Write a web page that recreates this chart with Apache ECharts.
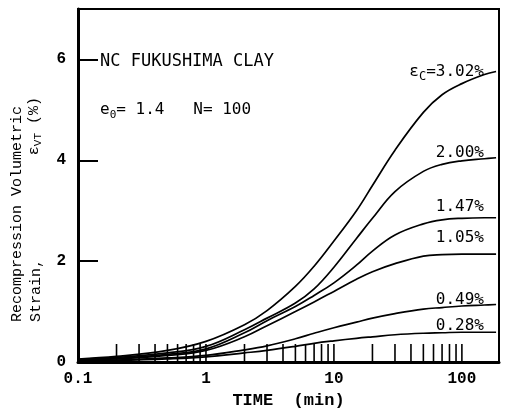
<!DOCTYPE html>
<html>
<head>
<meta charset="utf-8">
<script src="https://cdn.jsdelivr.net/npm/echarts@6/dist/echarts.min.js"></script>
<style>
html, body { margin: 0; padding: 0; background: #fff; }
#chart { width: 508px; height: 414px; }
</style>
</head>
<body>
<div id="chart"></div>
<script>
// time (min)
const times = [0.1, 0.2, 0.5, 1, 2, 3, 5, 7, 10, 15, 20, 30, 50, 70, 100, 150, 185]

// recompression volumetric strain (%) for each cyclic strain level
const strain302 = [0.06, 0.11, 0.23, 0.41, 0.74, 1.02, 1.5, 1.9, 2.4, 3.0, 3.5, 4.2, 4.95, 5.3, 5.52, 5.7, 5.76]
const strain200 = [0.05, 0.09, 0.18, 0.31, 0.64, 0.87, 1.17, 1.45, 1.88, 2.45, 2.85, 3.38, 3.78, 3.92, 3.99, 4.03, 4.05]
const strain147 = [0.04, 0.07, 0.15, 0.26, 0.58, 0.82, 1.1, 1.32, 1.57, 1.92, 2.2, 2.52, 2.74, 2.82, 2.85, 2.86, 2.86]
const strain105 = [0.04, 0.06, 0.13, 0.23, 0.5, 0.72, 1.0, 1.19, 1.4, 1.64, 1.79, 1.95, 2.1, 2.13, 2.14, 2.14, 2.14]
const strain049 = [0.03, 0.04, 0.08, 0.13, 0.24, 0.32, 0.46, 0.57, 0.68, 0.79, 0.87, 0.96, 1.05, 1.08, 1.11, 1.13, 1.14]
const strain028 = [0.02, 0.03, 0.06, 0.1, 0.18, 0.23, 0.31, 0.37, 0.42, 0.47, 0.5, 0.54, 0.57, 0.58, 0.59, 0.59, 0.59]

const seriesNames = ['3.02%', '2.00%', '1.47%', '1.05%', '0.49%', '0.28%']
const seriesValues = [strain302, strain200, strain147, strain105, strain049, strain028]

// axis ticks
const xTickLabels = [0.1, 1, 10, 100]
const yTickLabels = [0, 2, 4, 6]
const logMinorTicks = [0.2, 0.3, 0.4, 0.5, 0.6, 0.7, 0.8, 0.9, 1,
	2, 3, 4, 5, 6, 7, 8, 9, 10,
	20, 30, 40, 50, 60, 70, 80, 90, 100]

const chartDom = document.getElementById('chart')
const myChart = echarts.init(chartDom)

const mono = 'DejaVu Sans Mono'
const typewriter = 'Liberation Mono'

const lineSeries = seriesValues.map((vals, i) => ({
	name: seriesNames[i],
	type: 'line',
	data: times.map((t, j) => [t, vals[j]]),
	smooth: 0.4,
	symbol: 'none',
	lineStyle: { color: '#000', width: 1.7 },
	z: 3,
}))

const tickSeries = {
	type: 'custom',
	data: logMinorTicks.map(t => [t, 0]),
	renderItem: (params, api) => {
		const p = api.coord([api.value(0), api.value(1)])
		return {
			type: 'line',
			shape: { x1: p[0], y1: p[1], x2: p[0], y2: p[1] - 18 },
			style: { stroke: '#000', lineWidth: 1.6 },
		}
	},
	z: 4,
	silent: true,
}

const option = {
	animation: false,
	backgroundColor: '#fff',
	grid: {
		left: 78, top: 9, width: 421, height: 357,
		show: true, borderColor: '#000', borderWidth: 2,
	},
	xAxis: {
		type: 'log',
		min: 0.1,
		max: 195,
		logBase: 10,
		name: 'TIME  (min)',
		nameLocation: 'middle',
		nameGap: 30,
		nameTextStyle: { fontFamily: typewriter, fontSize: 17, fontWeight: 'bold', color: '#000' },
		axisLine: { lineStyle: { color: '#000', width: 3 } },
		axisTick: { show: false },
		splitLine: { show: false },
		axisLabel: {
			margin: 9,
			fontFamily: typewriter, fontSize: 16, fontWeight: 'bold', color: '#000',
			showMaxLabel: false,
			formatter: v => (xTickLabels.includes(+v.toPrecision(3)) ? String(+v.toPrecision(3)) : ''),
		},
	},
	yAxis: {
		type: 'value',
		min: 0,
		max: 7,
		interval: 2,
		axisLine: { show: true, lineStyle: { color: '#000', width: 3 } },
		axisTick: { show: true, inside: true, length: 20, lineStyle: { color: '#000', width: 2 } },
		splitLine: { show: false },
		axisLabel: {
			margin: 12,
			fontFamily: typewriter, fontSize: 16, fontWeight: 'bold', color: '#000',
			showMaxLabel: false,
			formatter: v => (yTickLabels.includes(v) ? String(v) : ''),
		},
	},
	graphic: [
		{
			type: 'text', x: 17, y: 322, rotation: Math.PI / 2,
			style: { text: 'Recompression Volumetric', fontFamily: typewriter, fontSize: 15, fill: '#000', align: 'left', verticalAlign: 'middle' },
		},
		{
			type: 'text', x: 36, y: 322, rotation: Math.PI / 2,
			style: { text: 'Strain,', fontFamily: typewriter, fontSize: 15, fill: '#000', align: 'left', verticalAlign: 'middle' },
		},
		{
			type: 'text', x: 34, y: 97, rotation: Math.PI / 2,
			style: {
				text: '{n|ε}{s|VT}{n| (%)}', align: 'right', verticalAlign: 'middle',
				rich: {
					n: { fontFamily: typewriter, fontSize: 15, lineHeight: 20, fill: '#000', verticalAlign: 'middle' },
					s: { fontFamily: typewriter, fontSize: 11, lineHeight: 11, fill: '#000', verticalAlign: 'bottom' },
				},
			},
		},
		{
			type: 'text', x: 100, y: 62,
			style: { text: 'NC FUKUSHIMA CLAY', fontFamily: mono, fontSize: 17, fill: '#000', align: 'left', verticalAlign: 'middle' },
		},
		{
			type: 'text', x: 100, y: 110,
			style: {
				text: '{n|e}{s|0}{n|= 1.4   N= 100}', align: 'left', verticalAlign: 'middle',
				rich: {
					n: { fontFamily: mono, fontSize: 16, lineHeight: 22, fill: '#000', verticalAlign: 'middle' },
					s: { fontFamily: mono, fontSize: 11, lineHeight: 11, fill: '#000', verticalAlign: 'bottom' },
				},
			},
		},
		{
			type: 'text', x: 484, y: 72,
			style: {
				text: '{n|ε}{s|C}{n|=3.02%}', align: 'right', verticalAlign: 'middle',
				rich: {
					n: { fontFamily: mono, fontSize: 16, lineHeight: 22, fill: '#000', verticalAlign: 'middle' },
					s: { fontFamily: mono, fontSize: 12, lineHeight: 12, fill: '#000', verticalAlign: 'bottom' },
				},
			},
		},
		{ type: 'text', x: 484, y: 153, style: { text: seriesNames[1], fontFamily: mono, fontSize: 16, fill: '#000', align: 'right', verticalAlign: 'middle' } },
		{ type: 'text', x: 484, y: 207, style: { text: seriesNames[2], fontFamily: mono, fontSize: 16, fill: '#000', align: 'right', verticalAlign: 'middle' } },
		{ type: 'text', x: 484, y: 238, style: { text: seriesNames[3], fontFamily: mono, fontSize: 16, fill: '#000', align: 'right', verticalAlign: 'middle' } },
		{ type: 'text', x: 484, y: 300, style: { text: seriesNames[4], fontFamily: mono, fontSize: 16, fill: '#000', align: 'right', verticalAlign: 'middle' } },
		{ type: 'text', x: 484, y: 326, style: { text: seriesNames[5], fontFamily: mono, fontSize: 16, fill: '#000', align: 'right', verticalAlign: 'middle' } },
	],
	series: [...lineSeries, tickSeries],
}

myChart.setOption(option)
</script>
</body>
</html>
